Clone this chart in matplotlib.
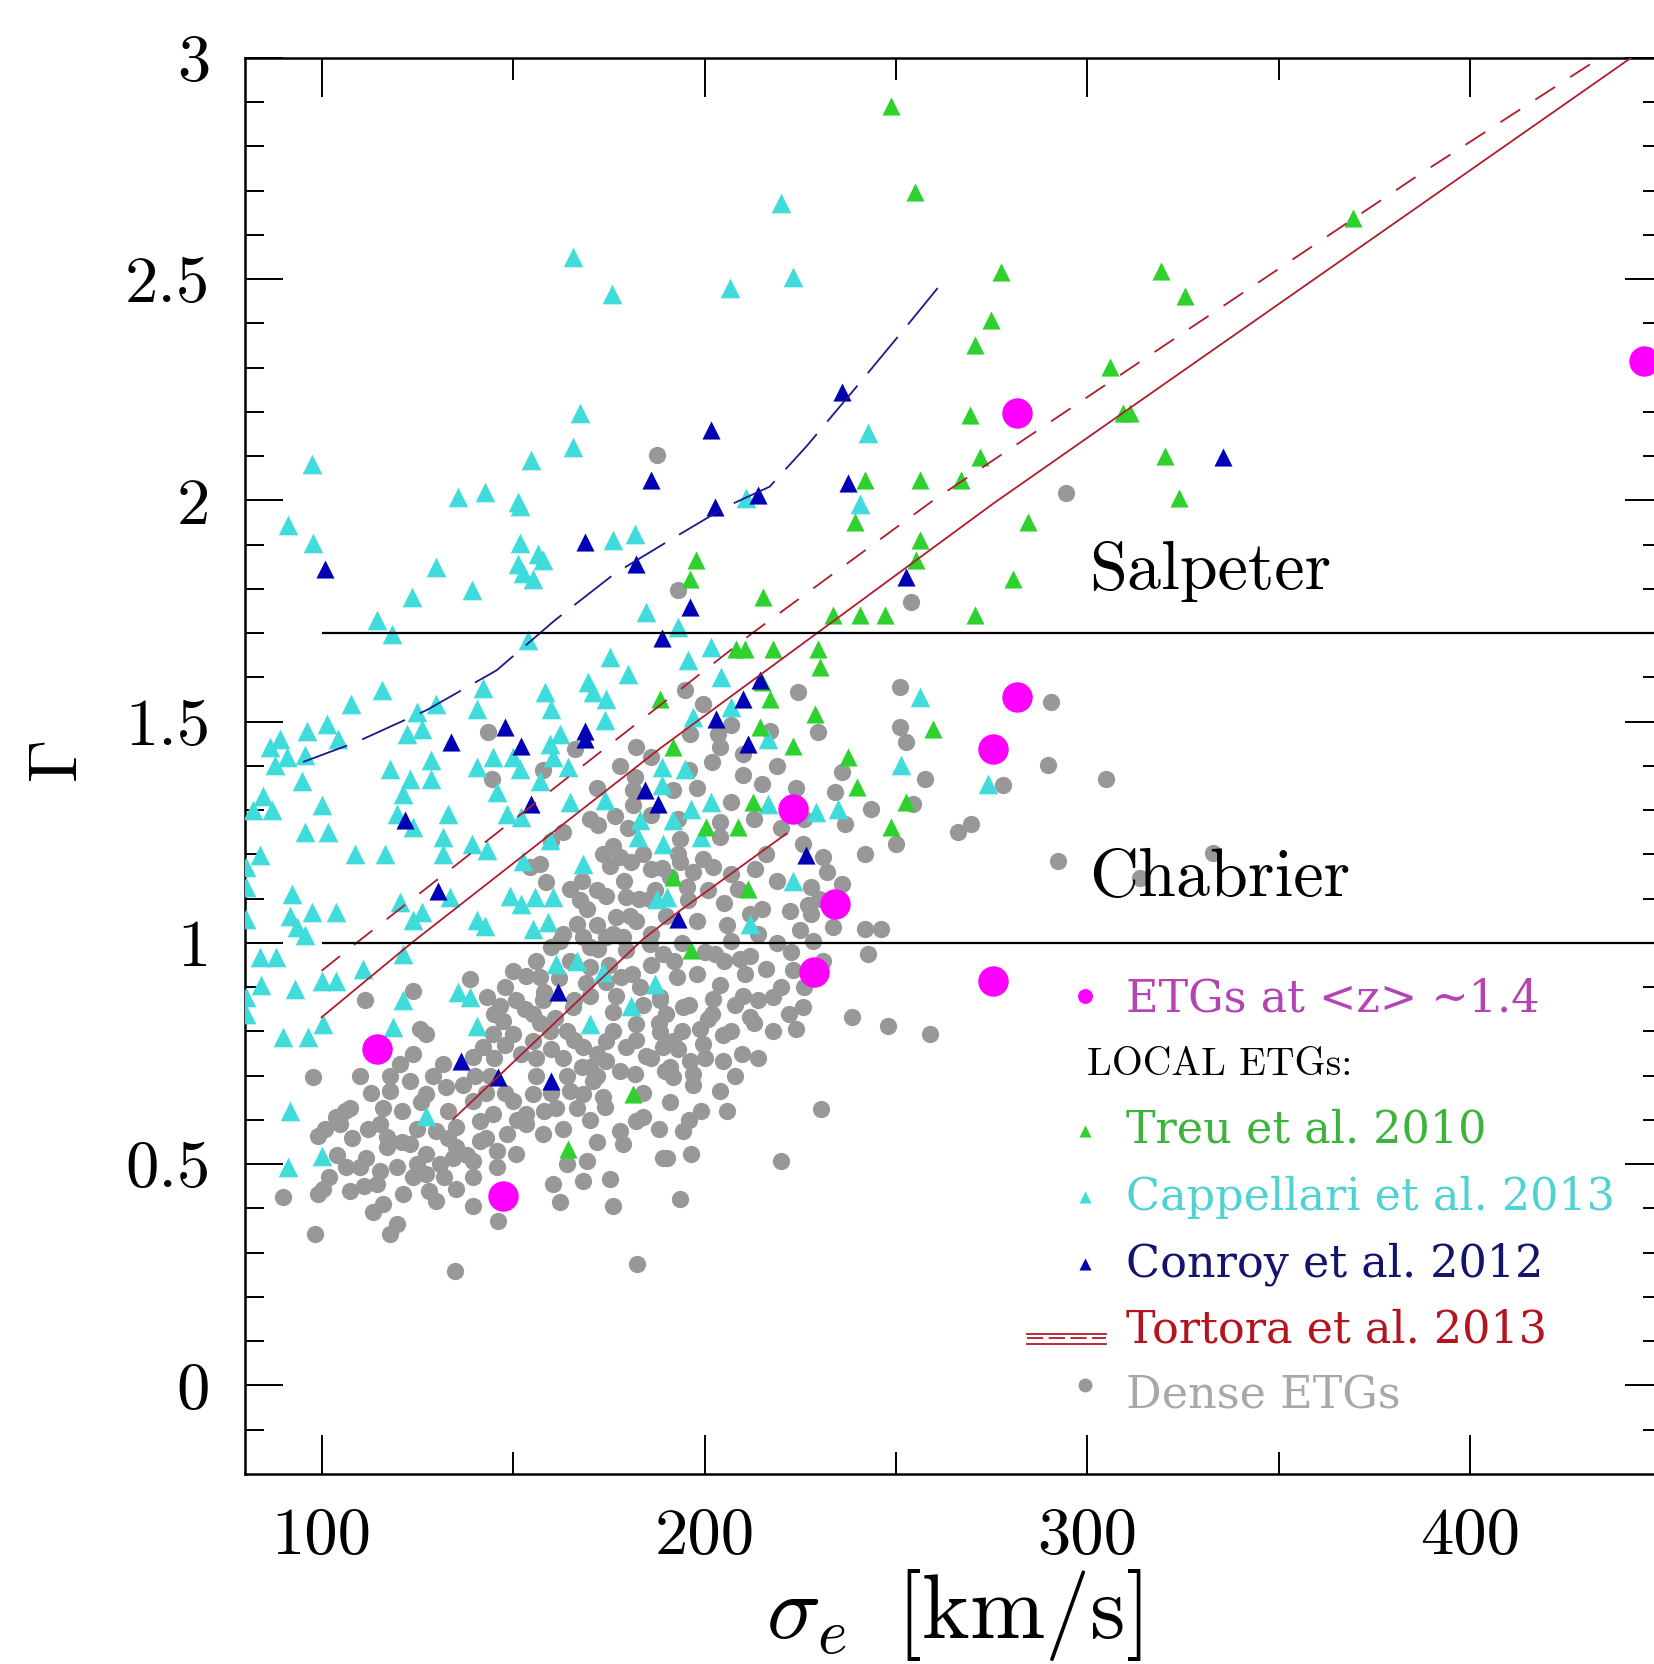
import numpy as np
import matplotlib
matplotlib.use('Agg')
import matplotlib.pyplot as plt

# ETGs at <z> ~ 1.4  (sigma_e [km/s], Gamma)
etg_z14 = np.array([
    (114.4, 0.760), (147.4, 0.429), (223.1, 1.303), (234.0, 1.087), (228.7, 0.934),
    (281.5, 2.197), (281.5, 1.556), (275.4, 1.439), (275.4, 0.915), (445.4, 2.316)])

# Treu et al. 2010
treu = np.array([
    (248.8, 2.891), (254.9, 2.698), (277.5, 2.517), (274.9, 2.408), (270.6, 2.352),
    (269.3, 2.193), (271.9, 2.099), (241.9, 2.046), (256.2, 2.046), (267.1, 2.046),
    (284.5, 1.952), (256.2, 1.910), (255.3, 1.865), (280.6, 1.823), (197.9, 1.865),
    (196.2, 1.823), (215.3, 1.782), (233.6, 1.741), (240.6, 1.741), (247.1, 1.741),
    (270.6, 1.741), (239.2, 1.952), (208.3, 1.665), (210.5, 1.665), (217.9, 1.665),
    (229.7, 1.665), (230.1, 1.624), (214.9, 1.590), (217.1, 1.552), (228.8, 1.518),
    (214.4, 1.488), (223.1, 1.446), (259.7, 1.484), (191.8, 1.443), (188.3, 1.552),
    (237.5, 1.420), (239.7, 1.352), (212.7, 1.318), (208.8, 1.262), (200.5, 1.262),
    (248.8, 1.262), (252.7, 1.318), (191.8, 1.149), (211.4, 1.122), (196.6, 0.983),
    (181.4, 0.659), (164.4, 0.534), (369.3, 2.638), (319.3, 2.518), (325.4, 2.461),
    (305.8, 2.301), (309.3, 2.198), (311.0, 2.198), (320.2, 2.101), (323.9, 2.006)])

# Cappellari et al. 2013
cappellari = np.array([
    (165.6, 2.549), (175.8, 2.467), (220.1, 2.672), (223.1, 2.506), (206.6, 2.480),
    (242.7, 2.152), (240.6, 1.993), (210.9, 2.005),
    (167.4, 2.197), (165.7, 2.121), (154.8, 2.091), (97.4, 2.083), (135.7, 2.008),
    (142.6, 2.019), (151.3, 1.997), (151.8, 1.987), (91.3, 1.944), (97.8, 1.903),
    (151.8, 1.903), (156.6, 1.880), (157.9, 1.865), (151.3, 1.857), (152.6, 1.835),
    (155.3, 1.823), (176.1, 1.910), (181.8, 1.925), (130.0, 1.850), (123.5, 1.782),
    (139.2, 1.797), (184.8, 1.748), (114.4, 1.729), (118.3, 1.699), (154.0, 1.684),
    (175.3, 1.646), (180.1, 1.608), (169.6, 1.590), (170.9, 1.567), (174.4, 1.552),
    (158.3, 1.567), (160.0, 1.529), (142.2, 1.575), (140.5, 1.529), (115.7, 1.571),
    (107.8, 1.541), (130.0, 1.541), (124.8, 1.522), (126.1, 1.484), (122.2, 1.473),
    (174.0, 1.503), (96.1, 1.480), (101.3, 1.495), (104.3, 1.461), (89.1, 1.461),
    (86.5, 1.443), (90.9, 1.420), (95.6, 1.424), (87.8, 1.401), (94.8, 1.367),
    (117.8, 1.394), (128.7, 1.413), (128.7, 1.371), (123.1, 1.371), (121.3, 1.337),
    (140.5, 1.397), (144.8, 1.420), (150.0, 1.420), (151.8, 1.394), (159.6, 1.450),
    (162.2, 1.473), (160.5, 1.420), (164.4, 1.397), (157.0, 1.367), (145.7, 1.341),
    (164.8, 1.318), (188.8, 1.397), (188.8, 1.356), (84.8, 1.333), (100.0, 1.311),
    (174.0, 1.322),
    (193.1, 1.714), (201.8, 1.669), (195.7, 1.639), (204.4, 1.601), (207.0, 1.533),
    (197.0, 1.510), (216.6, 1.462), (194.9, 1.394), (256.2, 1.556), (251.4, 1.401),
    (274.1, 1.360), (196.6, 1.303), (201.8, 1.318), (216.6, 1.315), (229.2, 1.296),
    (234.9, 1.303), (191.8, 1.277), (199.2, 1.239), (189.2, 1.224), (223.1, 1.141),
    (190.1, 1.103), (211.8, 1.043),
    (82.2, 1.300), (87.0, 1.300), (119.6, 1.292), (123.9, 1.262), (133.1, 1.292),
    (95.6, 1.250), (101.7, 1.250), (83.9, 1.198), (108.7, 1.201), (116.5, 1.201),
    (131.8, 1.239), (131.8, 1.201), (139.2, 1.224), (143.1, 1.209), (148.3, 1.292),
    (152.2, 1.284), (80.4, 1.171), (80.4, 1.126), (80.4, 1.054), (92.2, 1.111),
    (91.7, 1.062), (97.4, 1.069), (103.9, 1.069), (93.5, 1.036), (95.6, 1.017),
    (120.4, 1.092), (126.1, 1.069), (123.9, 1.051), (133.5, 1.103), (140.5, 1.051),
    (142.6, 1.039), (149.2, 1.107), (152.2, 1.088), (155.7, 1.103), (160.5, 1.103),
    (155.3, 1.032), (159.2, 1.047), (152.6, 1.186), (159.6, 1.232), (168.3, 1.179),
    (182.7, 1.239), (187.5, 1.100), (183.1, 1.277), (83.9, 0.968), (88.2, 0.968),
    (121.3, 0.975), (84.3, 0.904), (93.0, 0.896), (100.0, 0.915), (103.9, 0.915),
    (110.9, 0.941), (80.4, 0.877), (80.4, 0.839), (121.3, 0.870), (135.7, 0.889),
    (138.7, 0.877), (90.0, 0.787), (96.5, 0.787), (100.4, 0.817), (118.7, 0.809),
    (140.5, 0.813), (161.3, 0.952), (166.6, 0.960), (173.5, 0.934), (180.9, 0.858),
    (170.1, 0.817), (187.0, 0.907), (127.4, 0.610), (91.7, 0.621), (100.0, 0.519),
    (91.3, 0.493)])

# Conroy et al. 2012
conroy = np.array([
    (100.9, 1.846), (168.7, 1.906), (186.1, 2.046), (182.2, 1.857), (188.8, 1.688),
    (147.9, 1.488), (133.9, 1.454), (152.2, 1.446), (168.7, 1.480), (168.7, 1.461),
    (184.4, 1.345), (187.9, 1.314), (154.8, 1.314), (235.8, 2.246), (201.8, 2.159),
    (237.5, 2.039), (214.0, 2.012), (202.7, 1.986), (252.7, 1.827), (196.2, 1.759),
    (214.4, 1.594), (210.1, 1.552), (203.1, 1.507), (211.4, 1.450), (226.6, 1.198),
    (193.1, 1.054), (121.8, 1.277), (130.5, 1.118), (161.8, 0.889), (136.5, 0.734),
    (146.1, 0.696), (160.0, 0.689), (335.4, 2.098)])

# Dense ETGs
dense = np.array([
    (187.5, 2.102), (143.5, 1.477), (166.1, 1.439), (182.2, 1.443), (157.9, 1.390),
    (144.4, 1.371), (181.8, 1.375), (181.4, 1.345), (181.4, 1.311), (294.5, 2.016),
    (193.1, 1.797), (254.0, 1.771), (194.9, 1.571), (224.4, 1.567), (199.6, 1.541),
    (207.0, 1.492), (196.2, 1.473), (203.6, 1.473), (204.0, 1.443), (210.1, 1.428),
    (217.1, 1.480), (229.7, 1.477), (251.0, 1.578), (251.0, 1.488), (252.7, 1.454),
    (290.6, 1.545), (289.7, 1.401), (257.5, 1.371), (278.0, 1.356), (235.8, 1.386),
    (234.0, 1.341), (207.0, 1.318), (254.5, 1.315), (243.6, 1.303), (204.0, 1.273),
    (236.6, 1.269), (269.7, 1.269), (266.2, 1.251), (193.5, 1.235), (204.0, 1.239),
    (250.1, 1.224), (241.9, 1.201), (231.0, 1.194), (225.8, 1.224), (292.3, 1.186),
    (199.6, 1.190), (202.3, 1.171), (207.0, 1.156), (213.1, 1.167), (227.9, 1.126),
    (235.8, 1.134), (227.1, 1.085), (222.3, 1.073), (214.9, 1.077), (211.8, 1.066),
    (195.3, 1.126), (195.7, 1.096), (208.8, 1.122), (193.5, 1.183), (190.9, 1.149),
    (233.6, 1.036), (241.9, 1.032), (246.2, 1.032), (191.8, 1.345),
    (227.9, 1.066), (228.4, 1.005), (222.7, 0.979), (242.7, 0.975), (223.1, 0.938),
    (207.0, 1.005), (202.7, 0.975), (209.2, 0.964), (210.5, 0.930), (204.0, 0.904),
    (210.1, 0.881), (202.3, 0.873), (217.9, 0.877), (225.8, 0.855), (211.8, 0.832),
    (200.9, 0.828), (238.4, 0.832), (248.0, 0.813), (258.8, 0.794), (217.9, 0.802),
    (224.0, 0.806), (204.9, 0.791), (209.7, 0.749), (198.8, 0.806), (199.6, 0.772),
    (204.9, 0.734), (196.2, 0.734), (197.0, 0.704), (191.8, 0.696), (197.0, 0.678),
    (204.0, 0.666), (230.5, 0.625), (194.4, 0.576), (190.1, 0.515), (196.6, 0.523),
    (220.1, 0.508), (193.5, 0.421), (192.7, 0.922), (194.4, 0.855), (191.8, 0.779),
    (190.9, 0.719), (188.3, 0.877), (304.8, 1.370), (332.8, 1.204), (313.7, 1.147),
    (176.6, 1.288), (172.2, 1.266), (173.5, 1.201), (177.9, 1.194), (180.9, 1.183),
    (175.3, 1.175), (186.1, 1.167), (154.4, 1.171), (157.0, 1.179), (158.7, 1.137),
    (164.8, 1.122), (174.4, 1.107), (179.6, 1.103), (185.7, 1.100), (167.4, 1.096),
    (169.2, 1.077), (177.0, 1.058), (180.5, 1.062), (166.6, 1.043), (162.2, 1.005),
    (168.3, 1.013), (172.2, 0.986), (174.4, 1.013), (178.8, 1.013), (179.6, 0.983),
    (185.7, 0.998), (189.2, 0.975), (150.0, 0.937), (153.5, 0.926), (157.0, 0.922),
    (170.1, 0.945), (174.4, 0.911), (178.3, 0.922), (183.1, 0.900), (188.3, 0.870),
    (138.7, 0.919), (123.9, 0.892), (111.3, 0.870), (143.1, 0.877), (146.6, 0.858),
    (150.9, 0.870), (155.3, 0.840), (157.9, 0.870), (165.7, 0.855), (170.1, 0.881),
    (176.1, 0.843), (182.2, 0.817), (188.3, 0.798), (189.2, 0.764), (184.8, 0.745),
    (179.6, 0.764), (174.4, 0.779), (171.8, 0.749), (168.3, 0.764), (164.0, 0.802),
    (159.6, 0.802), (155.3, 0.779), (150.0, 0.794), (144.8, 0.794), (147.4, 0.824),
    (127.4, 0.794), (125.7, 0.805), (142.2, 0.764), (139.6, 0.742), (131.8, 0.727),
    (120.4, 0.727), (123.9, 0.749), (170.1, 0.719), (174.4, 0.734), (181.8, 0.704),
    (189.6, 0.711), (170.9, 0.689), (164.8, 0.666), (168.3, 0.659), (173.5, 0.651),
    (184.0, 0.606), (177.9, 0.576), (178.8, 0.546), (166.6, 0.628), (161.3, 0.628),
    (155.3, 0.659), (150.0, 0.643), (153.5, 0.613), (144.8, 0.613), (139.6, 0.643),
    (132.6, 0.674), (127.4, 0.659), (123.0, 0.689), (117.8, 0.666), (116.1, 0.628),
    (115.2, 0.591), (107.4, 0.628), (103.9, 0.606), (104.8, 0.591), (117.0, 0.561),
    (117.0, 0.538), (123.1, 0.545), (127.4, 0.523), (130.0, 0.576), (135.2, 0.583),
    (135.2, 0.538), (141.3, 0.553), (141.3, 0.598), (148.3, 0.568), (153.5, 0.591),
    (157.9, 0.568), (145.7, 0.530), (150.9, 0.523), (139.6, 0.508), (139.6, 0.470),
    (145.7, 0.493), (111.7, 0.515), (110.0, 0.493), (106.5, 0.493), (115.2, 0.485),
    (119.6, 0.493), (124.8, 0.500), (130.9, 0.500), (134.4, 0.515), (127.4, 0.478),
    (114.4, 0.455), (107.4, 0.440), (100.4, 0.444), (99.1, 0.432), (90.0, 0.425),
    (99.1, 0.564), (97.8, 0.696), (121.3, 0.432), (130.0, 0.417), (135.2, 0.444),
    (139.6, 0.406), (113.5, 0.391), (119.6, 0.365), (117.8, 0.342), (98.2, 0.342),
    (146.1, 0.372), (160.5, 0.455), (162.2, 0.414), (175.3, 0.466), (176.1, 0.406),
    (182.3, 0.274), (134.8, 0.259), (164.0, 0.500), (169.2, 0.508), (168.3, 0.462),
    (182.2, 0.598), (189.2, 0.515),
    # crowded core of the cloud
    (110.0, 0.700), (113.0, 0.660), (118.0, 0.700), (121.0, 0.620), (126.0, 0.640),
    (129.0, 0.700), (133.0, 0.620), (137.0, 0.680), (140.0, 0.700), (143.0, 0.660),
    (108.0, 0.560), (112.0, 0.580), (121.0, 0.550), (125.0, 0.580), (133.0, 0.560),
    (138.0, 0.520), (143.0, 0.560), (111.0, 0.450), (116.0, 0.410), (124.0, 0.470),
    (128.0, 0.440), (132.0, 0.470), (104.0, 0.520), (102.0, 0.470), (106.0, 0.620),
    (101.0, 0.580), (145.0, 0.740), (148.0, 0.770), (152.0, 0.750), (156.0, 0.740),
    (160.0, 0.760), (163.0, 0.740), (166.0, 0.780), (161.0, 0.830), (157.0, 0.820),
    (153.0, 0.850), (158.0, 0.890), (162.0, 0.920), (166.0, 0.870), (169.0, 0.910),
    (165.0, 0.960), (160.0, 0.990), (156.0, 0.960), (163.0, 1.020), (170.0, 0.990),
    (148.0, 0.900), (145.0, 0.840), (144.0, 0.700), (148.0, 0.660), (156.0, 0.700),
    (160.0, 0.660), (164.0, 0.700), (168.0, 0.720), (172.0, 0.700), (151.0, 0.600),
    (158.0, 0.620), (163.0, 0.580), (170.0, 0.600), (174.0, 0.630), (172.0, 0.550),
    (172.0, 1.040), (176.0, 1.020), (182.0, 1.050), (186.0, 1.020), (190.0, 1.060),
    (187.0, 1.120), (183.0, 1.100), (179.0, 1.140), (184.0, 1.200), (189.0, 1.170),
    (193.0, 1.200), (197.0, 1.160), (201.0, 1.120), (205.0, 1.090), (198.0, 1.050),
    (194.0, 1.000), (200.0, 0.980), (206.0, 1.040), (176.0, 1.220), (180.0, 1.260),
    (172.0, 1.120), (168.0, 1.140), (175.0, 0.950), (181.0, 0.930), (186.0, 0.950),
    (192.0, 0.960), (198.0, 0.930), (205.0, 0.960), (212.0, 0.970), (177.0, 0.880),
    (184.0, 0.860), (190.0, 0.840), (196.0, 0.860), (202.0, 0.840), (208.0, 0.860),
    (176.0, 0.800), (182.0, 0.780), (188.0, 0.820), (194.0, 0.800), (207.0, 0.800),
    (213.0, 0.820), (178.0, 0.710), (186.0, 0.740), (193.0, 0.760), (200.0, 0.740),
    (208.0, 0.700), (214.0, 0.740), (184.0, 0.660), (191.0, 0.640), (199.0, 0.620),
    (206.0, 0.620), (188.0, 0.580), (196.0, 0.600), (214.0, 1.020), (219.0, 1.000),
    (225.0, 1.030), (230.0, 1.100), (219.0, 1.140), (216.0, 1.200), (232.0, 1.160),
    (220.0, 0.900), (216.0, 0.940), (226.0, 0.900), (231.0, 0.960), (222.0, 0.840),
    (214.0, 0.870), (163.0, 1.250), (170.0, 1.280), (186.0, 1.290), (193.0, 1.280),
    (198.0, 1.350), (196.0, 1.390), (202.0, 1.410), (210.0, 1.380), (215.0, 1.360),
    (219.0, 1.400), (224.0, 1.350), (213.0, 1.280), (220.0, 1.260), (226.0, 1.280),
    (160.0, 1.230), (172.0, 1.350), (178.0, 1.400), (186.0, 1.420)])

# Tortora et al. 2013 relations
tortora_solid_x = [100.0, 123.5, 188.3, 229.2, 275.4, 441.9]
tortora_solid_y = [0.832, 1.000, 1.439, 1.699, 1.993, 3.000]
tortora_dash_x = [100.0, 109.1, 212.3, 259.7, 385.9, 433.8]
tortora_dash_y = [0.937, 1.000, 1.699, 2.000, 2.732, 3.000]
tortora_low_x = [134.4, 184.0, 193.6, 221.4]
tortora_low_y = [0.602, 1.009, 1.073, 1.247]

# Conroy et al. 2012 trend
conroy_line_x = [95.2, 109.1, 127.4, 145.7, 160.9, 176.6, 190.9, 205.7, 217.0,
                 226.6, 239.7, 252.7, 262.3]
conroy_line_y = [1.409, 1.454, 1.526, 1.616, 1.729, 1.835, 1.910, 1.986, 2.031,
                 2.122, 2.257, 2.393, 2.495]

# IMF normalisations
salpeter = 1.7
chabrier = 1.0

c_grey = '#989898'
c_cyan = '#40dcdc'
c_green = '#2ed12e'
c_navy = '#0000b4'
c_mag = '#ff00ff'
c_red = '#b01c2a'

plt.rcParams['mathtext.fontset'] = 'cm'
plt.rcParams['axes.unicode_minus'] = False

fig = plt.figure(figsize=(16.54, 16.64), dpi=100)
ax = fig.add_axes([0.1481, 0.1142, 0.8567, 0.8510])

ax.scatter(dense[:, 0], dense[:, 1], s=155, c=c_grey, lw=0, zorder=2)
ax.scatter(cappellari[:, 0], cappellari[:, 1], s=200, marker='^', c=c_cyan, lw=0, zorder=3)
ax.scatter(treu[:, 0], treu[:, 1], s=170, marker='^', c=c_green, lw=0, zorder=4)
ax.scatter(conroy[:, 0], conroy[:, 1], s=170, marker='^', c=c_navy, lw=0, zorder=5)
ax.scatter(etg_z14[:, 0], etg_z14[:, 1], s=480, c=c_mag, lw=0, zorder=6)

ax.plot(tortora_solid_x, tortora_solid_y, color=c_red, lw=1.3, zorder=7)
ln, = ax.plot(tortora_dash_x, tortora_dash_y, color=c_red, lw=1.3, zorder=7)
ln.set_dashes([13, 10])
ax.plot(tortora_low_x, tortora_low_y, color=c_red, lw=1.3, zorder=7)
ln, = ax.plot(conroy_line_x, conroy_line_y, color='#1a1a8c', lw=1.3, zorder=7)
ln.set_dashes([26, 9])

ax.hlines([salpeter, chabrier], 100, 450, color='black', lw=1.6, zorder=7)

ax.set_xlim(80, 450)
ax.set_ylim(-0.2, 3)

ax.set_xticks([100, 200, 300, 400], labels=['100', '200', '300', '400'])
ax.set_xticks([150, 250, 350], minor=True)
ax.set_yticks([0, 0.5, 1, 1.5, 2, 2.5, 3], labels=['0', '0.5', '1', '1.5', '2', '2.5', '3'])
ax.set_yticks(np.arange(-0.1, 3.0, 0.1), minor=True)
ax.tick_params(which='both', direction='in', top=True, right=True, width=1.4, color='black')
ax.tick_params(axis='x', which='major', length=28, pad=24, labelsize=48)
ax.tick_params(axis='x', which='minor', length=16)
ax.tick_params(axis='y', which='major', length=27, pad=25, labelsize=48)
ax.tick_params(axis='y', which='minor', length=14)
for lab in ax.get_xticklabels() + ax.get_yticklabels():
    lab.set_fontfamily('cmr10')
for sp in ax.spines.values():
    sp.set_linewidth(1.8)

ax.set_xlabel(r'$\sigma_e\;\;[\mathrm{km/s}]$', fontsize=65)
ax.xaxis.set_label_coords(0.5, -0.066)
ax.set_ylabel(r'$\Gamma$', fontsize=50, va='center')
ax.yaxis.set_label_coords(-0.132, 0.503)

ax.text(0.596, 0.625, 'Salpeter', transform=ax.transAxes, fontsize=49,
        family='cmr10', va='baseline')
ax.text(0.596, 0.408, 'Chabrier', transform=ax.transAxes, fontsize=49,
        family='cmr10', va='baseline')

# legend, drawn by hand like the original
tx = 0.6216
ax.scatter([0.593], [0.3375], s=115, c=c_mag, lw=0, transform=ax.transAxes, clip_on=False)
ax.text(tx, 0.3265, 'ETGs at <z> ~1.4', color='#b444b4', transform=ax.transAxes,
        fontsize=32, family='DejaVu Serif', va='baseline')
ax.text(0.594, 0.2815, 'LOCAL ETGs:', color='black', transform=ax.transAxes,
        fontsize=28.5, family='cmr10', va='baseline')
ax.scatter([0.593], [0.2422], s=75, marker='^', c=c_green, lw=0, transform=ax.transAxes)
ax.text(tx, 0.2343, 'Treu et al. 2010', color='#3cb43c', transform=ax.transAxes,
        fontsize=32, family='DejaVu Serif', va='baseline')
ax.scatter([0.593], [0.1953], s=75, marker='^', c=c_cyan, lw=0, transform=ax.transAxes)
ax.text(tx, 0.1863, 'Cappellari et al. 2013', color='#50d2d2', transform=ax.transAxes,
        fontsize=32, family='DejaVu Serif', va='baseline')
ax.scatter([0.593], [0.1481], s=75, marker='^', c=c_navy, lw=0, transform=ax.transAxes)
ax.text(tx, 0.1397, 'Conroy et al. 2012', color='#14146e', transform=ax.transAxes,
        fontsize=32, family='DejaVu Serif', va='baseline')
ax.plot([0.552, 0.6076], [0.0991, 0.0991], color=c_red, lw=1.3, transform=ax.transAxes)
ln, = ax.plot([0.552, 0.6076], [0.0959, 0.0959], color=c_red, lw=1.3, transform=ax.transAxes)
ln.set_dashes([9, 3])
ax.plot([0.552, 0.6076], [0.0916, 0.0916], color=c_red, lw=1.3, transform=ax.transAxes)
ax.text(tx, 0.0925, 'Tortora et al. 2013', color='#b4141e', transform=ax.transAxes,
        fontsize=32, family='DejaVu Serif', va='baseline')
ax.scatter([0.593], [0.0625], s=100, c=c_grey, lw=0, transform=ax.transAxes)
ax.text(tx, 0.0460, 'Dense ETGs', color='#a8a8a8', transform=ax.transAxes,
        fontsize=32, family='DejaVu Serif', va='baseline')

fig.savefig('out.png', dpi=100)
